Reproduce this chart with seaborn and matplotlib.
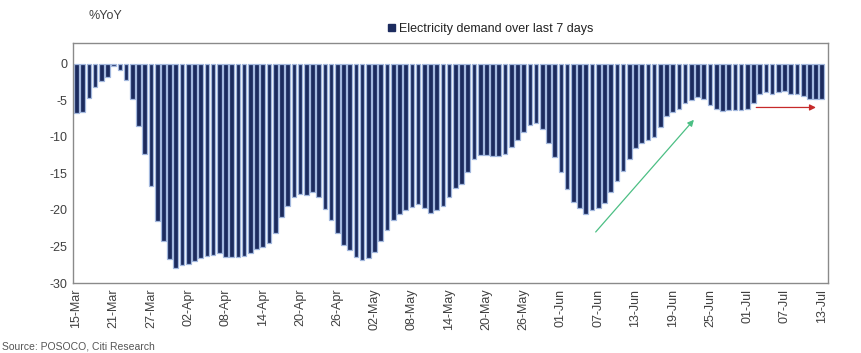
import matplotlib
matplotlib.use("Agg")
import matplotlib.pyplot as plt
from matplotlib.patches import Patch
import seaborn as sns
import pandas as pd

# Daily dates, 15-Mar to 13-Jul
days = pd.date_range("2020-03-15", "2020-07-13", freq="D")
day_labels = [d.strftime("%d-%b") for d in days]

# Electricity demand over the last 7 days, % YoY
demand_yoy = [
    -6.8, -6.6, -4.7, -3.2, -2.4, -1.8, -0.4, -0.9, -2.3, -4.9,
    -8.5, -12.4, -16.7, -21.5, -24.3, -26.7, -28.0, -27.5, -27.4, -27.0,
    -26.6, -26.3, -26.1, -25.9, -26.4, -26.5, -26.5, -26.3, -25.9, -25.4,
    -25.1, -24.5, -23.1, -21.0, -19.5, -18.3, -17.8, -17.9, -17.6, -18.3,
    -19.9, -21.4, -23.2, -24.8, -25.5, -26.5, -26.8, -26.6, -25.8, -24.3,
    -22.8, -21.4, -20.5, -20.0, -19.6, -19.2, -19.7, -20.4, -20.0, -19.4,
    -18.2, -17.0, -16.4, -14.8, -13.0, -12.5, -12.5, -12.6, -12.6, -12.3,
    -11.4, -10.4, -9.3, -8.4, -8.1, -9.0, -10.8, -12.8, -14.8, -17.2,
    -18.9, -19.8, -20.5, -20.0, -19.7, -19.0, -17.6, -16.1, -14.7, -13.0,
    -11.6, -10.9, -10.4, -10.0, -8.7, -7.1, -6.6, -6.2, -5.4, -5.0,
    -4.6, -4.8, -5.6, -6.2, -6.5, -6.3, -6.3, -6.4, -6.2, -5.4,
    -4.2, -3.9, -4.2, -3.9, -3.8, -4.1, -4.1, -4.4, -4.8, -4.8,
    -4.9,
]

tick_labels = [
    "15-Mar", "21-Mar", "27-Mar", "02-Apr", "08-Apr", "14-Apr", "20-Apr",
    "26-Apr", "02-May", "08-May", "14-May", "20-May", "26-May", "01-Jun",
    "07-Jun", "13-Jun", "19-Jun", "25-Jun", "01-Jul", "07-Jul", "13-Jul",
]

series_name = "Electricity demand over last 7 days"
navy = "#1c2b5e"
edge_blue = "#a3b8de"
text_grey = "#404040"

sns.set_theme(style="white")
plt.rcParams["font.family"] = ["Liberation Sans Narrow", "Liberation Sans", "DejaVu Sans"]

df = pd.DataFrame({"day": day_labels, "yoy": demand_yoy})

fig = plt.figure(figsize=(8.61, 3.53), dpi=100)
ax = fig.add_axes([0.0848, 0.198, 0.8769, 0.680])

sns.barplot(data=df, x="day", y="yoy", color=navy, saturation=1, width=0.75,
            edgecolor=edge_blue, linewidth=0.9, ax=ax, errorbar=None)

ax.set_xlim(-0.55, 121.0)
ax.set_ylim(-30, 2.8)
ax.set_yticks(range(-30, 1, 5))
ax.set_yticklabels([str(v) for v in range(-30, 1, 5)], fontsize=9, color=text_grey)

tick_pos = [day_labels.index(t) for t in tick_labels]
ax.set_xticks(tick_pos)
ax.set_xticklabels(tick_labels, rotation=90, fontsize=9, color=text_grey)
ax.tick_params(axis="both", length=0, pad=4)
ax.set_xlabel("")
ax.set_ylabel("")

for side in ["left", "right", "top", "bottom"]:
    ax.spines[side].set_visible(True)
    ax.spines[side].set_color("#8a8a8a")
    ax.spines[side].set_linewidth(1.0)

# Trend arrows
ax.annotate("", xy=(99.7, -7.4), xytext=(83.3, -23.3),
            arrowprops=dict(arrowstyle="-|>", color="#4cbf84", lw=0.9,
                            mutation_scale=9))
ax.annotate("", xy=(119.5, -6.0), xytext=(109.0, -6.0),
            arrowprops=dict(arrowstyle="-|>", color="#c62a2a", lw=0.9,
                            mutation_scale=9))

# Legend and captions
fig.legend(handles=[Patch(facecolor=navy, edgecolor=navy, label=series_name)],
           loc="center", bbox_to_anchor=(0.570, 0.918), frameon=False,
           fontsize=9, handlelength=0.55, handleheight=0.55, handletextpad=0.35,
           labelcolor="#222222")
fig.text(0.103, 0.955, "%YoY", fontsize=9, color=text_grey, ha="left", va="center")
fig.text(0.002, 0.018, "Source: POSOCO, Citi Research", fontsize=7.5,
         color="#555555", ha="left", va="center")

fig.savefig("out.png", dpi=100)
